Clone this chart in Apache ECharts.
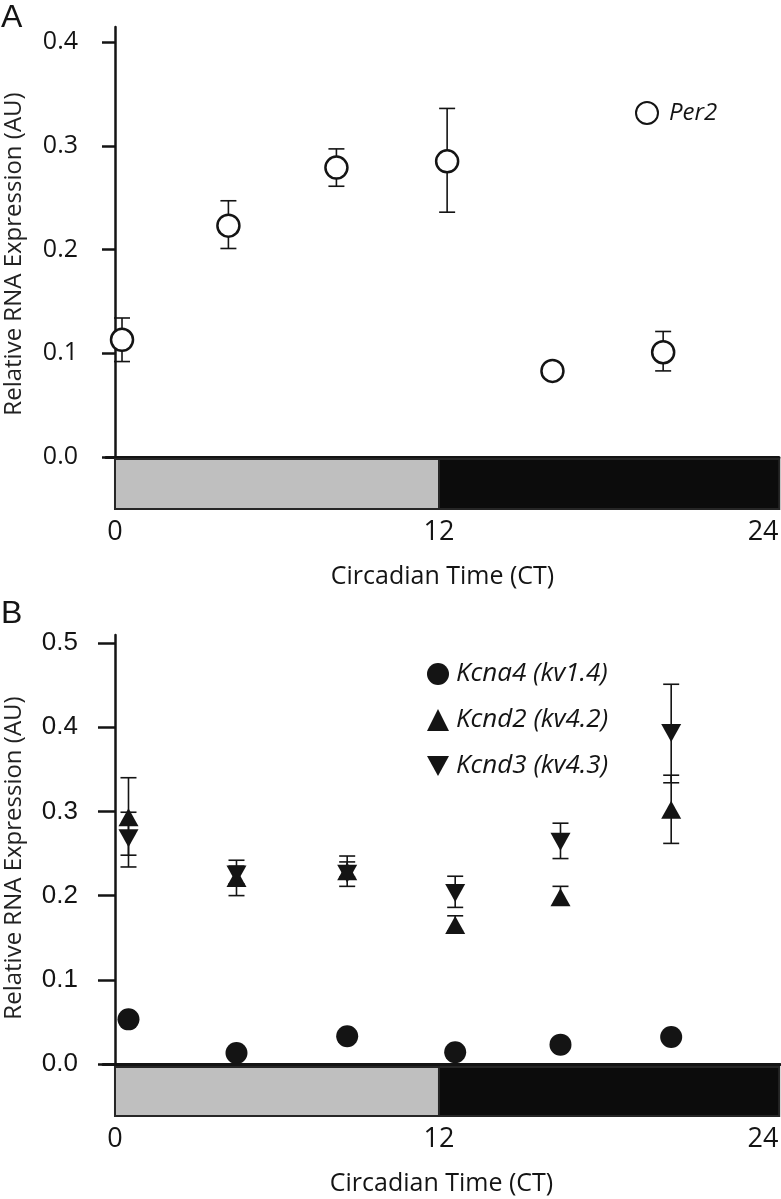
<!DOCTYPE html>
<html>
<head>
<meta charset="utf-8">
<script src="https://cdn.jsdelivr.net/npm/echarts@6/dist/echarts.min.js"></script>
<style>
html,body{margin:0;padding:0;background:#fff;}
#chart{width:781px;height:1199px;}
</style>
</head>
<body>
<div id="chart"></div>
<script>
// ---------- Data ----------
// Panel A: Per2
const ctA = [0.26, 4.2, 8.2, 12.3, 16.2, 20.3];
const per2 = [0.113, 0.223, 0.279, 0.285, 0.083, 0.101];
const per2Low = [0.092, 0.201, 0.261, 0.236, null, 0.083];
const per2High = [0.134, 0.247, 0.297, 0.336, null, 0.121];

// Panel B: potassium channel transcripts
const ctB = [0.5, 4.5, 8.6, 12.6, 16.5, 20.6];
const kcna4 = [0.053, 0.013, 0.033, 0.014, 0.023, 0.032];
const kcnd2 = [0.293, 0.221, 0.229, 0.165, 0.198, 0.302];
const kcnd2Low = [0.248, 0.200, 0.222, 0.158, 0.189, 0.262];
const kcnd2High = [0.299, 0.242, 0.240, 0.176, 0.211, 0.343];
const kcnd3 = [0.268, 0.225, 0.226, 0.203, 0.264, 0.393];
const kcnd3Low = [0.234, 0.214, 0.211, 0.186, 0.244, 0.334];
const kcnd3High = [0.340, 0.235, 0.247, 0.223, 0.286, 0.451];

// Light/dark phases (CT)
const phaseStart = [0, 12];
const phaseEnd = [12, 24.6];

// Tick labels
const xTicks = [0, 12, 24];
const yTicksA = [0, 0.1, 0.2, 0.3, 0.4];
const yTicksB = [0, 0.1, 0.2, 0.3, 0.4, 0.5];

const seriesNameA = 'Per2';
const seriesNamesB = ['Kcna4 (kv1.4)', 'Kcnd2 (kv4.2)', 'Kcnd3 (kv4.3)'];
const xName = 'Circadian Time (CT)';
const yName = 'Relative RNA Expression (AU)';

// ---------- Helpers ----------
const INK = '#141414';
const FONT = '"Open Sans", "Noto Sans", sans-serif';

function pts(xs, ys) { return xs.map((x, i) => [x, ys[i]]); }
function errs(xs, lo, hi) {
  return xs.map((x, i) => (lo[i] == null ? null : [x, lo[i], hi[i]])).filter(Boolean);
}
function errRender(params, api) {
  const x = api.value(0), lo = api.value(1), hi = api.value(2);
  const a = api.coord([x, lo]), b = api.coord([x, hi]);
  const hw = 8;
  const st = { stroke: INK, lineWidth: 1.6 };
  return {
    type: 'group',
    children: [
      { type: 'line', shape: { x1: a[0], y1: a[1], x2: b[0], y2: b[1] }, style: st },
      { type: 'line', shape: { x1: a[0] - hw, y1: a[1], x2: a[0] + hw, y2: a[1] }, style: st },
      { type: 'line', shape: { x1: b[0] - hw, y1: b[1], x2: b[0] + hw, y2: b[1] }, style: st }
    ]
  };
}
function phaseRender(params, api) {
  const s = api.value(0), e = api.value(1), k = api.value(2);
  const p1 = api.coord([s, 1]), p2 = api.coord([e, 0]);
  return {
    type: 'rect',
    shape: { x: p1[0], y: p1[1], width: p2[0] - p1[0], height: p2[1] - p1[1] },
    style: { fill: k === 0 ? '#bfbfbf' : '#0c0c0c', stroke: '#262626', lineWidth: 2 }
  };
}
const phaseData = phaseStart.map((s, i) => [s, phaseEnd[i], i]);

function mainX(min, max) {
  return {
    type: 'value', min: min, max: max,
    axisLine: { show: true, onZero: false, lineStyle: { color: INK, width: 3 } },
    axisTick: { show: false }, axisLabel: { show: false }, splitLine: { show: false }
  };
}
function barX(gi, min, max) {
  return {
    type: 'value', gridIndex: gi, min: min, max: max,
    axisLine: { show: false }, axisTick: { show: false }, splitLine: { show: false },
    axisLabel: {
      customValues: xTicks, margin: 10, color: INK,
      fontFamily: FONT, fontSize: 27
    },
    name: xName, nameLocation: 'middle', nameGap: 55,
    nameTextStyle: { color: INK, fontFamily: FONT, fontSize: 25 }
  };
}
function mainY(gi, max, ticks, tickLen, labelMargin, labelFont, labelSize) {
  return {
    type: 'value', gridIndex: gi, min: 0, max: max,
    axisLine: { show: true, lineStyle: { color: INK, width: 2.5 } },
    axisTick: { show: true, customValues: ticks, length: tickLen, lineStyle: { color: INK, width: 2.5 } },
    axisLabel: {
      customValues: ticks, margin: labelMargin, color: INK,
      fontFamily: labelFont, fontSize: labelSize,
      formatter: v => v.toFixed(1)
    },
    splitLine: { show: false }
  };
}
function barY(gi) {
  return { type: 'value', gridIndex: gi, min: 0, max: 1, show: false };
}
function yTitle(cy) {
  return {
    type: 'text', x: 14, y: cy, rotation: Math.PI / 2,
    style: { text: yName, fill: '#222', font: '24px ' + FONT, align: 'center', verticalAlign: 'middle' }
  };
}

// ---------- Layout ----------
const gA = { left: 106, top: 27, width: 673, height: 430 };
const gAbar = { left: 106, top: 459, width: 673, height: 50 };
const gB = { left: 103, top: 635, width: 677, height: 429 };
const gBbar = { left: 103, top: 1067, width: 677, height: 49 };
[gA, gAbar, gB, gBbar].forEach(g => { g.outerBoundsMode = 'none'; g.containLabel = false; });

const xMinA = -0.333, xMaxA = 24.59;
const xMinB = -0.444, xMaxB = 24.63;

const option = {
  animation: false,
  backgroundColor: '#ffffff',
  grid: [gA, gAbar, gB, gBbar],
  xAxis: [
    Object.assign(mainX(xMinA, xMaxA), { gridIndex: 0 }),
    barX(1, xMinA, xMaxA),
    Object.assign(mainX(xMinB, xMaxB), { gridIndex: 2 }),
    barX(3, xMinB, xMaxB)
  ],
  yAxis: [
    mainY(0, 0.4145, yTicksA, 13, 28, FONT, 25),
    barY(1),
    mainY(2, 0.5095, yTicksB, 17, 25, '"Liberation Sans", Arial, sans-serif', 26),
    barY(3)
  ],
  legend: [
    {
      data: [seriesNameA], left: 630, top: 96, itemWidth: 22, itemHeight: 22,
      textStyle: { color: INK, fontFamily: FONT, fontStyle: 'italic', fontSize: 24, padding: [0, 0, 0, 6] },
      selectedMode: false
    },
    {
      data: seriesNamesB, orient: 'vertical', left: 422, top: 656, itemGap: 20,
      itemWidth: 22, itemHeight: 22,
      textStyle: { color: INK, fontFamily: FONT, fontStyle: 'italic', fontSize: 26, padding: [0, 0, 0, 2] },
      selectedMode: false
    }
  ],
  series: [
    { type: 'custom', name: 'Per2 err', xAxisIndex: 0, yAxisIndex: 0, renderItem: errRender,
      encode: { x: 0, y: [1, 2] }, data: errs(ctA, per2Low, per2High), z: 2, silent: true },
    { type: 'scatter', name: seriesNameA, xAxisIndex: 0, yAxisIndex: 0, data: pts(ctA, per2),
      symbol: 'circle', symbolSize: 22,
      itemStyle: { color: '#ffffff', borderColor: INK, borderWidth: 2.5, opacity: 1 }, z: 3 },
    { type: 'custom', name: 'phaseA', xAxisIndex: 1, yAxisIndex: 1, renderItem: phaseRender,
      encode: { x: [0, 1] }, data: phaseData, silent: true },

    { type: 'custom', name: 'Kcnd2 err', xAxisIndex: 2, yAxisIndex: 2, renderItem: errRender,
      encode: { x: 0, y: [1, 2] }, data: errs(ctB, kcnd2Low, kcnd2High), z: 2, silent: true },
    { type: 'custom', name: 'Kcnd3 err', xAxisIndex: 2, yAxisIndex: 2, renderItem: errRender,
      encode: { x: 0, y: [1, 2] }, data: errs(ctB, kcnd3Low, kcnd3High), z: 2, silent: true },
    { type: 'scatter', name: seriesNamesB[0], xAxisIndex: 2, yAxisIndex: 2, data: pts(ctB, kcna4),
      symbol: 'circle', symbolSize: 22, itemStyle: { color: INK, opacity: 1 }, z: 3 },
    { type: 'scatter', name: seriesNamesB[1], xAxisIndex: 2, yAxisIndex: 2, data: pts(ctB, kcnd2),
      symbol: 'triangle', symbolSize: [20, 18], itemStyle: { color: INK, opacity: 1 }, z: 3 },
    { type: 'scatter', name: seriesNamesB[2], xAxisIndex: 2, yAxisIndex: 2, data: pts(ctB, kcnd3),
      symbol: 'path://M0,0L20,0L10,18Z', symbolSize: [20, 18], itemStyle: { color: INK, opacity: 1 }, z: 3 },
    { type: 'custom', name: 'phaseB', xAxisIndex: 3, yAxisIndex: 3, renderItem: phaseRender,
      encode: { x: [0, 1] }, data: phaseData, silent: true }
  ],
  graphic: [
    { type: 'text', left: 1, top: 2, style: { text: 'A', fill: INK, font: '32px "Liberation Sans", Arial, sans-serif' } },
    { type: 'text', left: 1, top: 598, style: { text: 'B', fill: INK, font: '32px "Liberation Sans", Arial, sans-serif' } },
    yTitle(254),
    yTitle(858)
  ]
};

const chart = echarts.init(document.getElementById('chart'), null, { renderer: 'canvas' });
chart.setOption(option);
</script>
</body>
</html>
